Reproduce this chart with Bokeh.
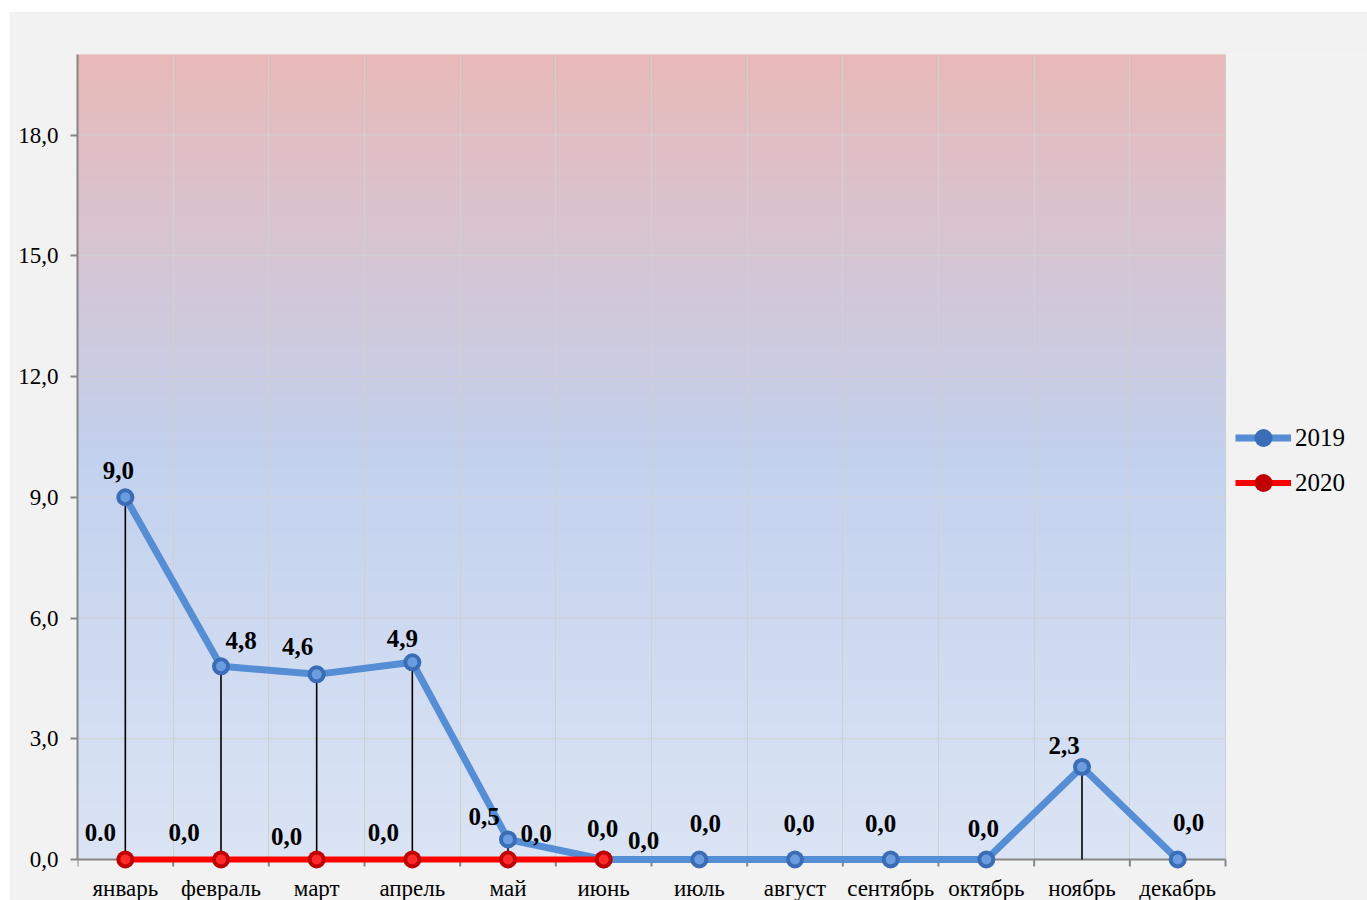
import numpy as np
from bokeh.plotting import figure
from bokeh.models import (ColumnDataSource, Range1d, FixedTicker, Legend, LegendItem)
from bokeh.core.properties import value
from bokeh.embed import file_html
from bokeh.resources import INLINE

# ---------------- data ----------------
months = ["январь", "февраль", "март", "апрель", "май", "июнь",
          "июль", "август", "сентябрь", "октябрь", "ноябрь", "декабрь"]
values_2019 = [9.0, 4.8, 4.6, 4.9, 0.5, 0.0, 0.0, 0.0, 0.0, 0.0, 2.3, 0.0]
labels_2019 = ["9,0", "4,8", "4,6", "4,9", "0,5", "0,0", "0,0", "0,0", "0,0", "0,0", "2,3", "0,0"]
values_2020 = [0.0, 0.0, 0.0, 0.0, 0.0, 0.0]
labels_2020 = ["0.0", "0,0", "0,0", "0,0", "0,0", "0,0"]
y_ticks = [0, 3, 6, 9, 12, 15, 18]
y_tick_labels = ["0,0", "3,0", "6,0", "9,0", "12,0", "15,0", "18,0"]

# label placement (screen px: dx right, dy up)
dx_2019 = [-7, 20, -19, -10, -24, 40, 6, 4, -10, -3, -18, 11]
dy_2019 = [27, 26, 28, 24, 23, 19, 36, 36, 36, 31, 21, 37]
dx_2020 = [-25, -37, -30, -29, 28, -1]
dy_2020 = [27, 27, 23, 27, 26, 31]

SERIF = "Liberation Serif"
BG = "#f2f2f2"
BLUE = "#558ed5"
RED = "#ff0000"
AXIS = "#868686"
GRID = "#d0d0d0"

N_CAT = len(months)
PX_PER_UNIT = 40.25          # 20 units over 805 px
Y_BOTTOM = -41 / PX_PER_UNIT  # room below zero for markers and month labels
X_RIGHT = N_CAT * 1290 / 1148  # frame extends under the legend

x19 = [i + 0.5 for i in range(len(values_2019))]
x20 = [i + 0.5 for i in range(len(values_2020))]
bounds = list(range(N_CAT + 1))

p = figure(width=1358, height=889, output_backend="svg", toolbar_location=None,
           x_range=Range1d(0, X_RIGHT), y_range=Range1d(Y_BOTTOM, 20),
           min_border_left=68, min_border_right=0, min_border_top=43, min_border_bottom=0)
p.margin = (11, 0, 0, 9)
p.border_fill_color = BG
p.background_fill_color = BG
p.outline_line_color = None
p.xaxis.visible = False

# ---------------- gradient background ----------------
def hex2rgb(h):
    h = h.lstrip("#")
    return np.array([int(h[i:i + 2], 16) for i in (0, 2, 4)], dtype=float)

stops = [(0.0, hex2rgb("#dbe4f4")), (0.5, hex2rgb("#c2d1ee")), (1.0, hex2rgb("#e8b9b8"))]
n = 160
edges = np.linspace(0, 20, n + 1)
cols = []
for k in range(n):
    t = (k + 0.5) / n
    for (t0, c0), (t1, c1) in zip(stops[:-1], stops[1:]):
        if t0 <= t <= t1:
            f = (t - t0) / (t1 - t0)
            c = c0 + (c1 - c0) * f
            break
    cols.append("#%02x%02x%02x" % tuple(int(round(v)) for v in c))
g = p.quad(left=0, right=N_CAT, bottom=edges[:-1], top=edges[1:], fill_color=cols,
           line_color=cols, line_width=1.2)
g.level = "image"

# ---------------- grids ----------------
p.xgrid.ticker = FixedTicker(ticks=bounds)
p.xgrid.grid_line_color = GRID
p.xgrid.grid_line_width = 1
p.ygrid.visible = False
hg = p.segment(x0=0, x1=N_CAT, y0=y_ticks, y1=y_ticks, line_color=GRID, line_width=1)
hg.level = "underlay"
# cover vertical grid lines below zero (drawn before every other glyph)
p.quad(left=-1, right=X_RIGHT + 1, bottom=Y_BOTTOM - 1, top=0, fill_color=BG, line_color=None)

# ---------------- y axis ----------------
p.yaxis.bounds = (0, 20)
p.yaxis.ticker = FixedTicker(ticks=y_ticks, minor_ticks=[])
p.yaxis.major_label_overrides = {t: l for t, l in zip(y_ticks, y_tick_labels)}
p.yaxis.major_tick_out = 7
p.yaxis.major_tick_in = 0
p.yaxis.major_tick_line_color = AXIS
p.yaxis.major_tick_line_width = 2
p.yaxis.axis_line_color = AXIS
p.yaxis.axis_line_width = 2
p.yaxis.major_label_text_font = SERIF
p.yaxis.major_label_text_font_size = "23px"
p.yaxis.major_label_text_color = "#000000"
p.yaxis.major_label_standoff = 12

# ---------------- x axis (drawn at value 0) ----------------
p.segment(x0=0, x1=N_CAT, y0=0, y1=0, line_color=AXIS, line_width=2)
p.ray(x=bounds, y=0, length=7, length_units="screen", angle=-np.pi / 2,
      line_color=AXIS, line_width=2)
p.text(x=x19, y=0, text=months, y_offset=29, text_font=value(SERIF), text_font_size="23px",
       text_color="#000000", text_align="center", text_baseline="middle")

# ---------------- series ----------------
src19 = ColumnDataSource(dict(x=x19, y=values_2019, lab=labels_2019, dx=dx_2019,
                              dy=[-d for d in dy_2019], zero=[0] * len(x19)))
src20 = ColumnDataSource(dict(x=x20, y=values_2020, lab=labels_2020, dx=dx_2020,
                              dy=[-d for d in dy_2020]))

l19 = p.line("x", "y", source=src19, line_color=BLUE, line_width=7, line_join="round")
l20 = p.line("x", "y", source=src20, line_color=RED, line_width=6, line_join="round")

p.segment(x0="x", y0="zero", x1="x", y1="y", source=src19, line_color="#000000", line_width=1.6)

m19a = p.scatter("x", "y", source=src19, size=18, fill_color="#3a6db5", line_color=None)
m19b = p.scatter("x", "y", source=src19, size=10, fill_color="#6a9de0", line_color=None)
m20a = p.scatter("x", "y", source=src20, size=18, fill_color="#c00000", line_color=None)
m20b = p.scatter("x", "y", source=src20, size=10, fill_color="#ff2a2a", line_color=None)

for src in (src19, src20):
    p.text("x", "y", text="lab", source=src, x_offset="dx", y_offset="dy",
           text_font=value(SERIF), text_font_style="bold", text_font_size="25px",
           text_color="#000000", text_align="center", text_baseline="middle")

# ---------------- legend ----------------
legend = Legend(items=[LegendItem(label="2019", renderers=[l19, m19a], index=0),
                       LegendItem(label="2020", renderers=[l20, m20a], index=0)],
                location=(1158, 395), background_fill_alpha=0, border_line_color=None,
                label_text_font=SERIF, label_text_font_size="25px", label_text_color="#000000",
                glyph_width=56, glyph_height=45, label_height=45, spacing=0,
                padding=0, margin=0, label_standoff=4)
p.add_layout(legend)

open("out.html", "w").write(file_html(p, INLINE))
